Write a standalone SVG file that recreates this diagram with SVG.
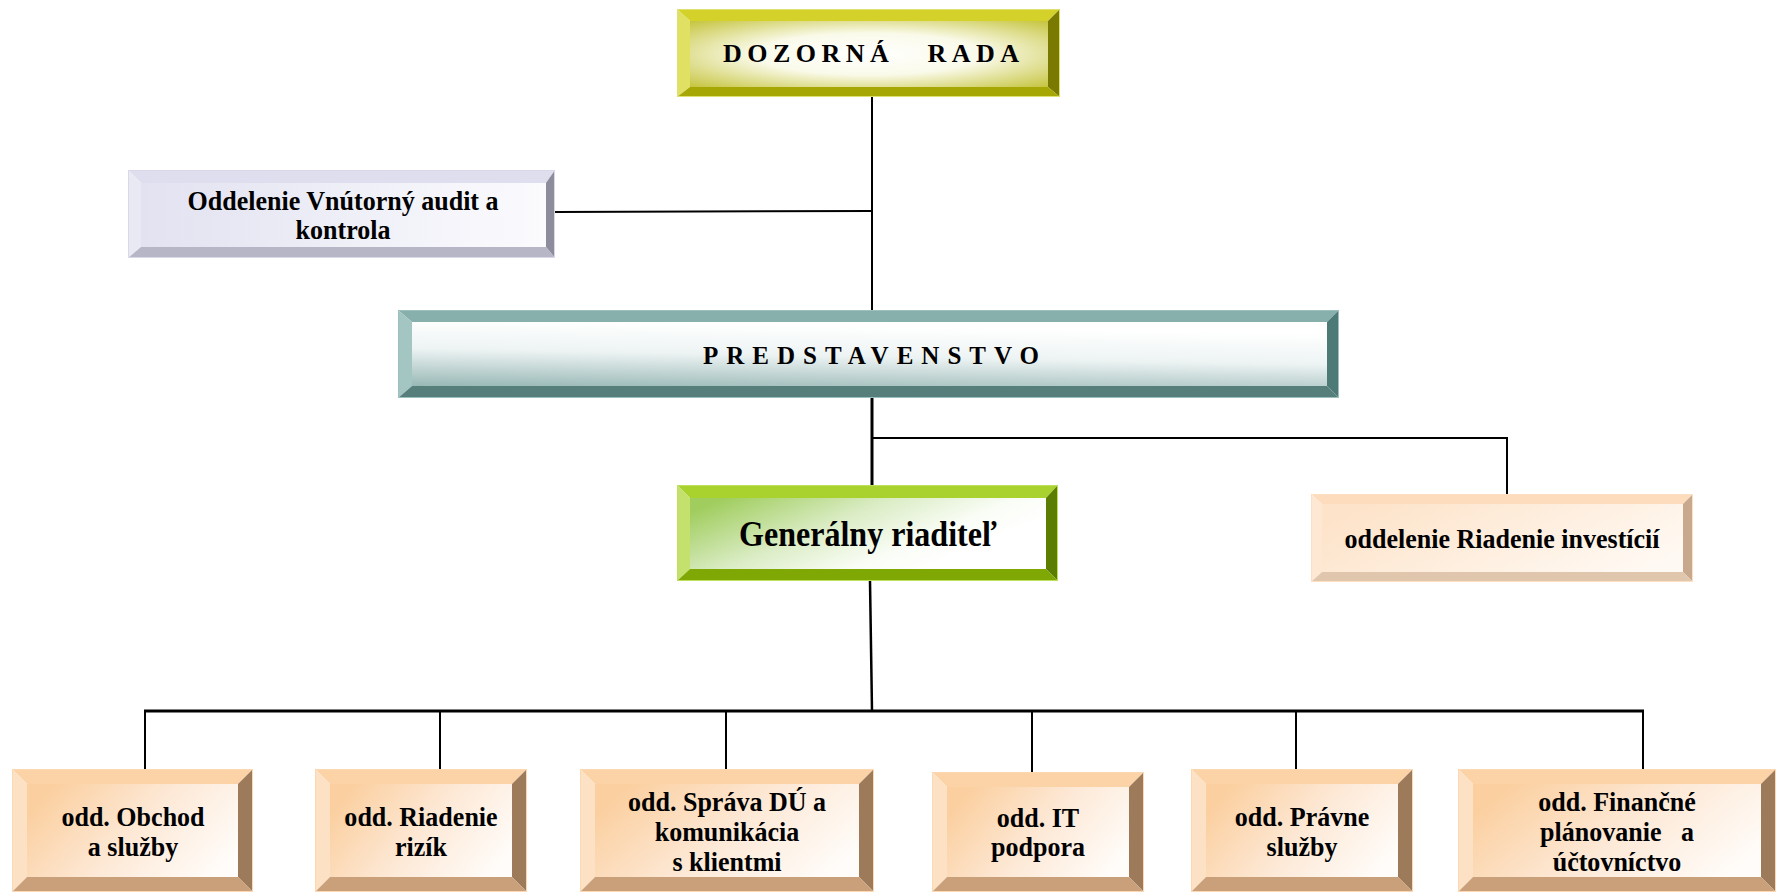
<svg xmlns="http://www.w3.org/2000/svg" width="1778" height="893" viewBox="0 0 1778 893">
<style>
text{font-family:"Liberation Serif","Times New Roman",serif;font-weight:bold;fill:#000;text-anchor:middle;font-size:28px}
.sp{text-anchor:start;font-size:26px}
.yel .bt{fill:#d4d22a}.yel .bl{fill:#e0e062}.yel .br{fill:#7a7a02}.yel .bb{fill:#a6a604}.yel .rim{stroke:#e0e070}
.lav .bt{fill:#dedeef}.lav .bl{fill:#e9e9f4}.lav .br{fill:#8c8c9c}.lav .bb{fill:#b6b6c6}.lav .rim{stroke:#d8d8e8}
.tea .bt{fill:#87b0ad}.tea .bl{fill:#a4c6c3}.tea .br{fill:#4d7a76}.tea .bb{fill:#567f7b}.tea .rim{stroke:#9cc0bd}
.grn .bt{fill:#a9d22e}.grn .bl{fill:#c3e16c}.grn .br{fill:#5b7d02}.grn .bb{fill:#80a804}.grn .rim{stroke:#bfe05c}
.org .bt{fill:#fcd3a7}.org .bl{fill:#fde1c4}.org .br{fill:#9c7a5a}.org .bb{fill:#c9a079}.org .rim{stroke:#fcd8b2}
.lor .bt{fill:#fddcbd}.lor .bl{fill:#fee8d4}.lor .br{fill:#c8a98e}.lor .bb{fill:#e0c6ad}.lor .rim{stroke:#fde0c4}
.rim{fill:none;stroke-width:1}
.c{fill:none;stroke:#000;stroke-width:2}
</style>
<defs>
<radialGradient id="gY" cx="50%" cy="50%" r="70%">
<stop offset="0" stop-color="#ffffff"/><stop offset="0.45" stop-color="#fafaea"/><stop offset="1" stop-color="#c6c540"/>
</radialGradient>
<linearGradient id="gL" x1="0" y1="0" x2="1" y2="0">
<stop offset="0" stop-color="#e2e2f1"/><stop offset="1" stop-color="#fbfbfe"/>
</linearGradient>
<linearGradient id="gT" x1="0" y1="1" x2="0.25" y2="0">
<stop offset="0" stop-color="#98b8b6"/><stop offset="0.55" stop-color="#edf3f3"/><stop offset="1" stop-color="#ffffff"/>
</linearGradient>
<linearGradient id="gG" x1="0" y1="0.2" x2="0.85" y2="0.6">
<stop offset="0" stop-color="#a0cd5e"/><stop offset="0.45" stop-color="#daecc4"/><stop offset="0.8" stop-color="#fafdf6"/><stop offset="1" stop-color="#ffffff"/>
</linearGradient>
<linearGradient id="gO" x1="0" y1="0.3" x2="1" y2="0.7">
<stop offset="0" stop-color="#fbcf9f"/><stop offset="0.5" stop-color="#fde8d5"/><stop offset="1" stop-color="#fffcf9"/>
</linearGradient>
<linearGradient id="gLO" x1="0" y1="0.3" x2="1" y2="0.7">
<stop offset="0" stop-color="#fde3c9"/><stop offset="1" stop-color="#fff9f3"/>
</linearGradient>
</defs>

<g id="connectors">
<path class="c" d="M872,97 V310"/>
<path class="c" d="M555,212 L872,211"/>
<path class="c" d="M872,398 V485" style="stroke-width:3"/>
<path class="c" d="M872,438 H1507 V494"/>
<path class="c" d="M870,581 L872,711" style="stroke-width:2.5"/>
<path class="c" d="M144,711 H1644" style="stroke-width:3"/>
<path class="c" d="M145,711 V769 M440,711 V769 M726,711 V769 M1032,711 V772 M1296,711 V769 M1643,711 V769"/>
</g>

<g id="dozorna-rada" class="yel" transform="translate(677,9)">
<polygon class="bt" points="0,0 383,0 371,12 13,12"/>
<polygon class="bl" points="0,0 13,12 13,78 0,88"/>
<polygon class="br" points="383,0 383,88 371,78 371,12"/>
<polygon class="bb" points="0,88 383,88 371,78 13,78"/>
<rect x="13" y="12" width="358" height="66" fill="url(#gY)"/>
<rect class="rim" x="0.5" y="0.5" width="382" height="87"/>
<text class="sp" x="46" y="53" style="letter-spacing:5.5px;word-spacing:21px">DOZORNÁ RADA</text>
</g>

<g id="audit" class="lav" transform="translate(128,170)">
<polygon class="bt" points="0,0 427,0 418,13 13,13"/>
<polygon class="bl" points="0,0 13,13 13,77 0,88"/>
<polygon class="br" points="427,0 427,88 418,77 418,13"/>
<polygon class="bb" points="0,88 427,88 418,77 13,77"/>
<rect x="13" y="13" width="405" height="64" fill="url(#gL)"/>
<rect class="rim" x="0.5" y="0.5" width="426" height="87"/>
<g transform="translate(215,0) scale(0.93,1)">
<text x="0" y="40">Oddelenie Vnútorný audit a</text>
<text x="0" y="69">kontrola</text>
</g>
</g>

<g id="predstavenstvo" class="tea" transform="translate(398,310)">
<polygon class="bt" points="0,0 941,0 929,12 14,12"/>
<polygon class="bl" points="0,0 14,12 14,76 0,88"/>
<polygon class="br" points="941,0 941,88 929,76 929,12"/>
<polygon class="bb" points="0,88 941,88 929,76 14,76"/>
<rect x="14" y="12" width="915" height="64" fill="url(#gT)"/>
<rect class="rim" x="0.5" y="0.5" width="940" height="87"/>
<text class="sp" x="305" y="54" style="font-size:25px;letter-spacing:8px">PREDSTAVENSTVO</text>
</g>

<g id="generalny-riaditel" class="grn" transform="translate(677,485)">
<polygon class="bt" points="0,0 381,0 369,13 13,13"/>
<polygon class="bl" points="0,0 13,13 13,84 0,96"/>
<polygon class="br" points="381,0 381,96 369,84 369,13"/>
<polygon class="bb" points="0,96 381,96 369,84 13,84"/>
<rect x="13" y="13" width="356" height="71" fill="url(#gG)"/>
<rect class="rim" x="0.5" y="0.5" width="380" height="95"/>
<g transform="translate(191,0) scale(0.89,1)">
<text x="0" y="61" style="font-size:36px">Generálny riaditeľ</text>
</g>
</g>

<g id="riadenie-investicii" class="lor" transform="translate(1311,494)">
<polygon class="bt" points="0,0 382,0 372,10 11,10"/>
<polygon class="bl" points="0,0 11,10 11,78 0,88"/>
<polygon class="br" points="382,0 382,88 372,78 372,10"/>
<polygon class="bb" points="0,88 382,88 372,78 11,78"/>
<rect x="11" y="10" width="361" height="68" fill="url(#gLO)"/>
<rect class="rim" x="0.5" y="0.5" width="381" height="87"/>
<g transform="translate(191,0) scale(0.93,1)">
<text x="0" y="54">oddelenie Riadenie investícií</text>
</g>
</g>

<g id="obchod" class="org" transform="translate(12,769)">
<polygon class="bt" points="0,0 241,0 226,15 15,15"/>
<polygon class="bl" points="0,0 15,15 15,108 0,123"/>
<polygon class="br" points="241,0 241,123 226,108 226,15"/>
<polygon class="bb" points="0,123 241,123 226,108 15,108"/>
<rect x="15" y="15" width="211" height="93" fill="url(#gO)"/>
<rect class="rim" x="0.5" y="0.5" width="240" height="122"/>
<g transform="translate(121,0) scale(0.93,1)">
<text x="0" y="57">odd. Obchod</text>
<text x="0" y="87">a služby</text>
</g>
</g>

<g id="rizika" class="org" transform="translate(315,769)">
<polygon class="bt" points="0,0 212,0 197,15 15,15"/>
<polygon class="bl" points="0,0 15,15 15,108 0,123"/>
<polygon class="br" points="212,0 212,123 197,108 197,15"/>
<polygon class="bb" points="0,123 212,123 197,108 15,108"/>
<rect x="15" y="15" width="182" height="93" fill="url(#gO)"/>
<rect class="rim" x="0.5" y="0.5" width="211" height="122"/>
<g transform="translate(106,0) scale(0.93,1)">
<text x="0" y="57">odd. Riadenie</text>
<text x="0" y="87">rizík</text>
</g>
</g>

<g id="sprava-du" class="org" transform="translate(580,769)">
<polygon class="bt" points="0,0 294,0 279,15 15,15"/>
<polygon class="bl" points="0,0 15,15 15,108 0,123"/>
<polygon class="br" points="294,0 294,123 279,108 279,15"/>
<polygon class="bb" points="0,123 294,123 279,108 15,108"/>
<rect x="15" y="15" width="264" height="93" fill="url(#gO)"/>
<rect class="rim" x="0.5" y="0.5" width="293" height="122"/>
<g transform="translate(147,0) scale(0.93,1)">
<text x="0" y="42">odd. Správa DÚ a</text>
<text x="0" y="72">komunikácia</text>
<text x="0" y="102">s klientmi</text>
</g>
</g>

<g id="it-podpora" class="org" transform="translate(932,772)">
<polygon class="bt" points="0,0 212,0 197,15 15,15"/>
<polygon class="bl" points="0,0 15,15 15,105 0,120"/>
<polygon class="br" points="212,0 212,120 197,105 197,15"/>
<polygon class="bb" points="0,120 212,120 197,105 15,105"/>
<rect x="15" y="15" width="182" height="90" fill="url(#gO)"/>
<rect class="rim" x="0.5" y="0.5" width="211" height="119"/>
<g transform="translate(106,0) scale(0.93,1)">
<text x="0" y="55">odd. IT</text>
<text x="0" y="84">podpora</text>
</g>
</g>

<g id="pravne-sluzby" class="org" transform="translate(1191,769)">
<polygon class="bt" points="0,0 222,0 207,15 15,15"/>
<polygon class="bl" points="0,0 15,15 15,108 0,123"/>
<polygon class="br" points="222,0 222,123 207,108 207,15"/>
<polygon class="bb" points="0,123 222,123 207,108 15,108"/>
<rect x="15" y="15" width="192" height="93" fill="url(#gO)"/>
<rect class="rim" x="0.5" y="0.5" width="221" height="122"/>
<g transform="translate(111,0) scale(0.93,1)">
<text x="0" y="57">odd. Právne</text>
<text x="0" y="87">služby</text>
</g>
</g>

<g id="financne" class="org" transform="translate(1458,769)">
<polygon class="bt" points="0,0 318,0 303,15 15,15"/>
<polygon class="bl" points="0,0 15,15 15,108 0,123"/>
<polygon class="br" points="318,0 318,123 303,108 303,15"/>
<polygon class="bb" points="0,123 318,123 303,108 15,108"/>
<rect x="15" y="15" width="288" height="93" fill="url(#gO)"/>
<rect class="rim" x="0.5" y="0.5" width="317" height="122"/>
<g transform="translate(159,0) scale(0.93,1)">
<text x="0" y="42">odd. Finančné</text>
<text x="0" y="72" xml:space="preserve">plánovanie   a</text>
<text x="0" y="102">účtovníctvo</text>
</g>
</g>
</svg>
